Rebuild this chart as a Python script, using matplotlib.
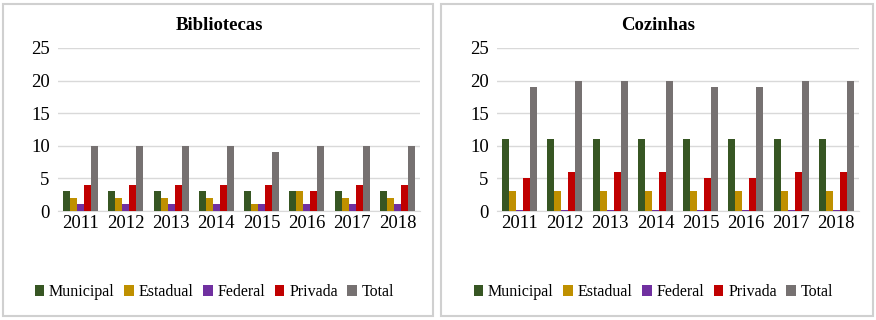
import matplotlib.pyplot as plt
import numpy as np
from matplotlib.patches import Rectangle

plt.rcParams['font.family'] = ['Liberation Serif', 'DejaVu Serif']

years = ['2011', '2012', '2013', '2014', '2015', '2016', '2017', '2018']
series = ['Municipal', 'Estadual', 'Federal', 'Privada', 'Total']
colors = ['#375623', '#BF9000', '#7030A0', '#C00000', '#767171']

# Bibliotecas
bib_municipal = [3, 3, 3, 3, 3, 3, 3, 3]
bib_estadual = [2, 2, 2, 2, 1, 3, 2, 2]
bib_federal = [1, 1, 1, 1, 1, 1, 1, 1]
bib_privada = [4, 4, 4, 4, 4, 3, 4, 4]
bib_total = [10, 10, 10, 10, 9, 10, 10, 10]

# Cozinhas
coz_municipal = [11, 11, 11, 11, 11, 11, 11, 11]
coz_estadual = [3, 3, 3, 3, 3, 3, 3, 3]
coz_federal = [0.1, 0.1, 0.1, 0.1, 0.1, 0.1, 0.1, 0.1]
coz_privada = [5, 6, 6, 6, 5, 5, 6, 6]
coz_total = [19, 20, 20, 20, 19, 19, 20, 20]

fig = plt.figure(figsize=(8.76, 3.2), dpi=100)

# panel frames
fig.patches.append(Rectangle((3/876, 4/320), 430/876, 312/320, transform=fig.transFigure,
                             fill=False, edgecolor='#d0d0d0', linewidth=1.5))
fig.patches.append(Rectangle((441/876, 4/320), 432/876, 312/320, transform=fig.transFigure,
                             fill=False, edgecolor='#d0d0d0', linewidth=1.5))


def draw(left, title, data):
    ax = fig.add_axes([left/876, 1 - 211/320, 362/876, 163/320])
    x = np.arange(len(years))
    w = 0.155
    for i, (vals, c, name) in enumerate(zip(data, colors, series)):
        ax.bar(x + (i - 2) * w, vals, w, color=c, label=name, zorder=3)
    ax.set_ylim(0, 25)
    ax.set_xlim(-0.5, len(years) - 0.5)
    ax.set_yticks([0, 5, 10, 15, 20, 25])
    ax.set_xticks(x)
    ax.set_xticklabels(years)
    ax.grid(axis='y', color='#d9d9d9', linewidth=1, zorder=0)
    for s in ['top', 'right', 'left']:
        ax.spines[s].set_visible(False)
    ax.spines['bottom'].set_color('#d9d9d9')
    ax.tick_params(length=0, labelsize=13.5, pad=3)
    ax.tick_params(axis='y', pad=6)
    ax.set_title(title, fontsize=13.5, fontweight='bold', pad=13, x=0.445)
    ax.legend(loc='upper center', bbox_to_anchor=(0.432, -0.36), ncol=5, frameon=False,
              fontsize=11.5, handlelength=0.6, handleheight=0.75, handletextpad=0.3,
              columnspacing=0.6)
    return ax


draw(58, 'Bibliotecas', [bib_municipal, bib_estadual, bib_federal, bib_privada, bib_total])
draw(497, 'Cozinhas', [coz_municipal, coz_estadual, coz_federal, coz_privada, coz_total])

plt.savefig('out.png', dpi=100)
